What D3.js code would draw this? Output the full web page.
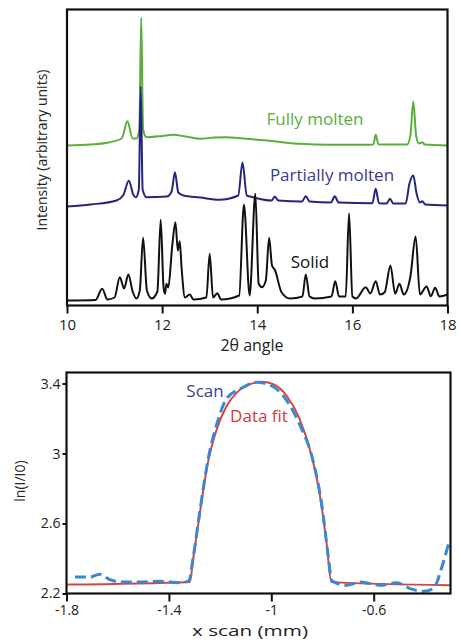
<!DOCTYPE html>
<html><head><meta charset="utf-8">
<script src="https://cdn.jsdelivr.net/npm/d3@7"></script>
<style>body{margin:0;background:#fff} text{font-family:"Open Sans",sans-serif}</style>
</head><body><svg id="c" width="458" height="640"></svg>
<script>
// ---------- Top chart data: [2θ angle, intensity (arbitrary units)] ----------
const fullyMolten = [[10,160],[10.5,161],[10.9,163.3],[11.15,167],[11.27,184.3],[11.38,167],[11.46,167],[11.52,176],[11.56,287.7],[11.6,176],[11.67,168.3],[12.0,169.5],[12.23,170.7],[12.5,169],[12.8,166.7],[13.1,168],[13.35,168.3],[13.7,167],[14.2,165],[14.9,161.7],[15.5,160.7],[16.3,160.7],[16.44,161],[16.49,170.7],[16.55,161],[17.15,161],[17.22,170],[17.28,204],[17.34,170],[17.4,162],[17.47,163.3],[17.52,161],[18,160]];
const partiallyMolten = [[10,99],[10.5,101],[11.04,105],[11.18,110],[11.3,124.7],[11.4,110],[11.45,108.3],[11.51,116],[11.55,219],[11.59,116],[11.67,108.3],[12.1,109],[12.2,114],[12.27,133.3],[12.34,113],[12.45,110],[12.8,108],[13.2,105.7],[13.6,110],[13.69,143],[13.78,110],[13.91,108.3],[14.3,105],[14.37,109],[14.44,105],[14.94,104],[15.02,109.3],[15.1,104],[15.55,103],[15.63,109.3],[15.71,103],[16.42,102.3],[16.49,116.7],[16.56,102.3],[16.72,102],[16.79,106.7],[16.86,102],[17.12,102],[17.2,122],[17.28,130],[17.35,112],[17.42,103],[17.47,104.3],[17.53,101],[18,100]];
const solid = [[10,5],[10.6,5.5],[10.74,16.7],[10.85,6],[11.0,8],[11.11,28.3],[11.2,17],[11.29,31],[11.38,14],[11.46,7],[11.53,15],[11.6,67.7],[11.68,15],[11.78,7],[11.9,14],[11.97,85.7],[12.03,18],[12.06,11.7],[12.09,21.7],[12.13,18],[12.21,58.3],[12.28,83.3],[12.33,55],[12.37,64.3],[12.41,37],[12.48,8],[12.58,11],[12.66,6],[12.93,8],[13.0,51.7],[13.07,8],[13.16,12.3],[13.24,6],[13.62,10],[13.72,101],[13.84,10],[13.96,111.7],[14.03,21.7],[14.1,18.3],[14.18,25],[14.25,67.7],[14.31,40],[14.37,35.7],[14.51,13.3],[14.69,7],[14.95,9],[15.02,31],[15.1,9],[15.21,7],[15.56,9],[15.64,24.3],[15.72,9],[15.86,9],[15.93,92.3],[16.0,9],[16.08,7],[16.28,18.3],[16.38,12],[16.49,24.3],[16.58,11],[16.68,13.3],[16.8,40],[16.9,11.7],[16.99,21.7],[17.08,11],[17.22,29],[17.33,69],[17.42,11],[17.56,19],[17.65,9.3],[17.74,17.7],[17.83,9],[18,11]];
const topXTicks = [10,12,14,16,18];
const topXTickLabels = ["10","12","14","16","18"];
const seriesNames = ["Fully molten","Partially molten","Solid"];

// ---------- Bottom chart data: [x scan (mm), ln(I/I0)] ----------
const scan = [[-1.767,2.294],[-1.709,2.294],[-1.67,2.31],[-1.63,2.279],[-1.591,2.266],[-1.512,2.266],[-1.435,2.27],[-1.357,2.262],[-1.322,2.272],[-1.305,2.407],[-1.279,2.671],[-1.246,2.973],[-1.214,3.162],[-1.175,3.313],[-1.122,3.369],[-1.057,3.407],[-1.005,3.392],[-0.94,3.304],[-0.888,3.162],[-0.836,2.954],[-0.803,2.709],[-0.777,2.407],[-0.764,2.272],[-0.705,2.247],[-0.653,2.266],[-0.575,2.247],[-0.51,2.262],[-0.458,2.228],[-0.406,2.213],[-0.367,2.228],[-0.334,2.35],[-0.308,2.483]];
const dataFit = [[-1.8,2.251],[-1.318,2.266],[-1.305,2.4],[-1.279,2.66],[-1.25,2.93],[-1.215,3.13],[-1.175,3.27],[-1.13,3.355],[-1.08,3.398],[-1.035,3.41],[-0.99,3.395],[-0.94,3.33],[-0.89,3.2],[-0.845,3.0],[-0.81,2.76],[-0.785,2.5],[-0.765,2.265],[-0.3,2.247]];
const botXTicks = [-1.8,-1.4,-1.0,-0.6];
const botXTickLabels = ["-1.8","-1.4","-1","-0.6"];
const botYTicks = [2.2,2.6,3.0,3.4];
const botYTickLabels = ["2.2","2.6","3","3.4"];

const svg = d3.select("#c");

// ---------- Top chart ----------
const T = {l:67, r:447.5, t:9.5, b:305.5};
const xT = d3.scaleLinear().domain([10,18]).range([T.l,T.r]);
const yT = d3.scaleLinear().domain([0,296]).range([T.b,T.t]);
const lineT = d3.line().x(d=>xT(d[0])).y(d=>yT(d[1])).curve(d3.curveMonotoneX);
const colors = ["#5aae3c","#25257f","#111111"];
[fullyMolten, partiallyMolten, solid].forEach((s,i)=>{
  svg.append("path").datum(s).attr("d",lineT).attr("fill","none")
    .attr("stroke",colors[i]).attr("stroke-width",2).attr("stroke-linejoin","round");
});
svg.append("rect").attr("x",T.l).attr("y",T.t).attr("width",T.r-T.l).attr("height",T.b-T.t)
  .attr("fill","none").attr("stroke","#111").attr("stroke-width",2.2);
const axT = svg.append("g").attr("transform",`translate(0,${T.b})`)
  .call(d3.axisBottom(xT).tickValues(topXTicks).tickFormat((d,i)=>topXTickLabels[i]).tickSize(8).tickSizeOuter(0).tickPadding(6));
axT.select(".domain").remove();
axT.selectAll("line").attr("stroke","#111").attr("stroke-width",2);
axT.selectAll("text").attr("font-size",15).attr("fill","#222").style("font-family","'Open Sans',sans-serif");
svg.append("text").attr("x",252).attr("y",351).attr("text-anchor","middle").attr("font-size",16).attr("fill","#222").text("2θ angle");
svg.append("text").attr("transform","translate(47,150) rotate(-90)").attr("text-anchor","middle").attr("font-size",14).attr("fill","#222").text("Intensity (arbitrary units)");
const labelCol = ["#5aae3c","#3b3a94","#111"];
const labelPos = [[315,125],[332,181],[310,268]];
seriesNames.forEach((n,i)=>{
  svg.append("text").attr("x",labelPos[i][0]).attr("y",labelPos[i][1]).attr("text-anchor","middle")
    .attr("font-size",17).attr("fill",labelCol[i]).text(n);
});

// ---------- Bottom chart ----------
const B = {l:66.5, r:450.5, t:372.5, b:593.5};
const xB = d3.scaleLinear().domain([-1.8,-0.3]).range([B.l,B.r]);
const yB = d3.scaleLinear().domain([2.2,3.463]).range([B.b,B.t]);
const lineB = d3.line().x(d=>xB(d[0])).y(d=>yB(d[1])).curve(d3.curveMonotoneX);
svg.append("path").datum(dataFit).attr("d",lineB).attr("fill","none").attr("stroke","#d8443a").attr("stroke-width",2);
svg.append("path").datum(scan).attr("d",lineB).attr("fill","none").attr("stroke","#3b87d2").attr("stroke-width",3).attr("stroke-dasharray","11,5");
svg.append("rect").attr("x",B.l).attr("y",B.t).attr("width",B.r-B.l).attr("height",B.b-B.t)
  .attr("fill","none").attr("stroke","#111").attr("stroke-width",2.2);
const axBx = svg.append("g").attr("transform",`translate(0,${B.b})`)
  .call(d3.axisBottom(xB).tickValues(botXTicks).tickFormat((d,i)=>botXTickLabels[i]).tickSize(8).tickSizeOuter(0).tickPadding(4));
const axBy = svg.append("g").attr("transform",`translate(${B.l},0)`)
  .call(d3.axisLeft(yB).tickValues(botYTicks).tickFormat((d,i)=>botYTickLabels[i]).tickSize(4).tickSizeOuter(0).tickPadding(2));
[axBx,axBy].forEach(a=>{
  a.select(".domain").remove();
  a.selectAll("line").attr("stroke","#111").attr("stroke-width",2);
  a.selectAll("text").attr("font-size",14).attr("fill","#222").style("font-family","'Open Sans',sans-serif");
});
svg.append("text").attr("x",250).attr("y",635.5).attr("text-anchor","middle").attr("font-size",15)
  .attr("textLength",116).attr("lengthAdjust","spacingAndGlyphs").attr("fill","#222").text("x scan (mm)");
svg.append("text").attr("transform","translate(25,481) rotate(-90)").attr("text-anchor","middle").attr("font-size",14).attr("fill","#222").text("ln(I/I0)");
svg.append("text").attr("x",205).attr("y",397).attr("text-anchor","middle").attr("font-size",17).attr("fill","#3d3f8f").text("Scan");
svg.append("text").attr("x",259).attr("y",422).attr("text-anchor","middle").attr("font-size",17).attr("fill","#d23a3a").text("Data fit");
</script></body></html>
